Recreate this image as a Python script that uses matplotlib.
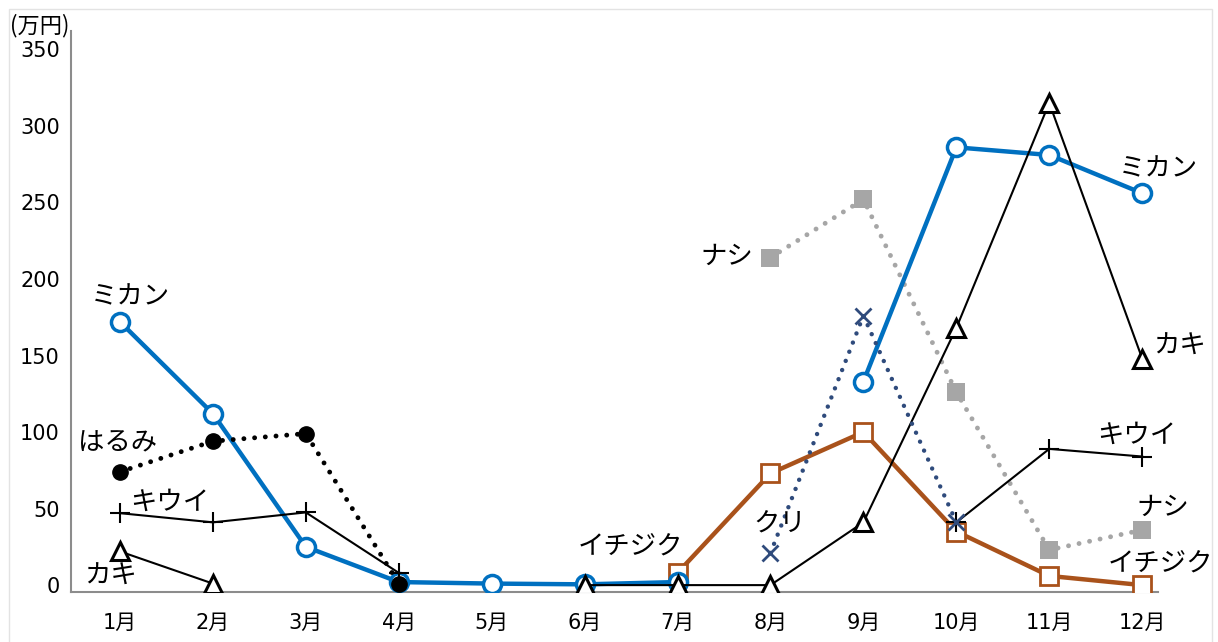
import numpy as np
import matplotlib
matplotlib.use("Agg")
import matplotlib.pyplot as plt
from matplotlib.patches import Rectangle

plt.rcParams['font.family'] = ['DejaVu Sans', 'Noto Sans CJK JP']
jp = ['Noto Sans CJK JP', 'DejaVu Sans']

nan = np.nan
months = ['1月', '2月', '3月', '4月', '5月', '6月', '7月', '8月', '9月', '10月', '11月', '12月']

# 月別の売上 (万円)
mikan   = [172, 112, 25, 2, 1, 0.5, 2, nan, 133, 286, 281, 256]
harumi  = [74, 94, 99, 1, nan, nan, nan, nan, nan, nan, nan, nan]
kiwi    = [47, 41, 47.5, 8, nan, nan, nan, nan, nan, 41, 89, 84]
kaki    = [22, 1, nan, nan, nan, 0, 0, 0, 41, 168, 315, 148]
ichijiku = [nan, nan, nan, nan, nan, nan, 8, 73, 100, 35, 6, 0]
nashi   = [nan, nan, nan, nan, nan, nan, nan, 214, 252, 126, 23, 36]
kuri    = [nan, nan, nan, nan, nan, nan, nan, 21, 176, 41, nan, nan]

x = np.arange(1, 13)
blue = '#0070C0'
brown = '#A9521B'
gray = '#A6A6A6'
navy = '#2F4B7C'
dots = (0, (0.01, 2.2))

fig = plt.figure(figsize=(12.18, 6.42), dpi=100)
ax = fig.add_axes([71 / 1218, 50 / 642, (1158 - 71) / 1218, (592 - 31) / 642])

# 系列ごとの折れ線
ax.plot(x, nashi, color=gray, lw=3.5, linestyle=dots, dash_capstyle='round',
        marker='s', ms=13, mfc=gray, mew=0, zorder=2)
ax.plot(x, ichijiku, color=brown, lw=3.2, marker='s', ms=13, mfc='white',
        mec=brown, mew=2, zorder=3)
ax.plot(x, mikan, color=blue, lw=3.2, marker='o', ms=13, mfc='white',
        mec=blue, mew=2.5, zorder=4)
ax.plot(x, kaki, color='black', lw=1.5, marker='^', ms=13, mfc='white',
        mec='black', mew=2.2, zorder=5)
ax.plot(x, kiwi, color='black', lw=1.5, marker='+', ms=14, mew=1.5, zorder=5)
ax.plot(x, harumi, color='black', lw=3.5, linestyle=dots, dash_capstyle='round',
        marker='o', ms=11, mfc='black', mec='black', zorder=6)
ax.plot(x, kuri, color=navy, lw=3.2, linestyle=dots, dash_capstyle='round',
        marker='x', ms=12, mew=2, zorder=6)

# 系列名のラベル
labels = [
    ('ミカン', 1.11, 188), ('ミカン', 12.18, 272),
    ('はるみ', 0.97, 93),
    ('キウイ', 1.54, 54), ('キウイ', 11.94, 98),
    ('カキ', 0.90, 6), ('カキ', 12.40, 156),
    ('イチジク', 6.49, 25), ('イチジク', 12.20, 14),
    ('クリ', 8.10, 40),
    ('ナシ', 7.53, 215), ('ナシ', 12.22, 51),
]
for txt, lx, ly in labels:
    ax.text(lx, ly, txt, fontsize=19, family=jp, ha='center', va='center', zorder=7)

ax.set_xlim(0.473, 12.17)
ax.set_ylim(-4.5, 362)
ax.set_xticks(x)
ax.set_xticklabels(months)
ax.set_yticks(range(0, 351, 50))
ax.tick_params(axis='both', length=0, labelsize=15)
ax.tick_params(axis='x', pad=15)
ax.tick_params(axis='y', pad=8)
for side in ['top', 'right']:
    ax.spines[side].set_visible(False)
for side in ['left', 'bottom']:
    ax.spines[side].set_color('#8C8C8C')
    ax.spines[side].set_linewidth(1.5)

fig.text(40 / 1218, 1 - 26 / 642, '(万円)', fontsize=16, family=jp,
         ha='center', va='center')

# 外枠
fig.patches.append(Rectangle((9 / 1218, -0.02), (1212 - 9) / 1218, 1 - 9 / 642 + 0.02,
                             transform=fig.transFigure, fill=False,
                             edgecolor='#E3E3E3', lw=1))

fig.savefig('out.png', dpi=100)
